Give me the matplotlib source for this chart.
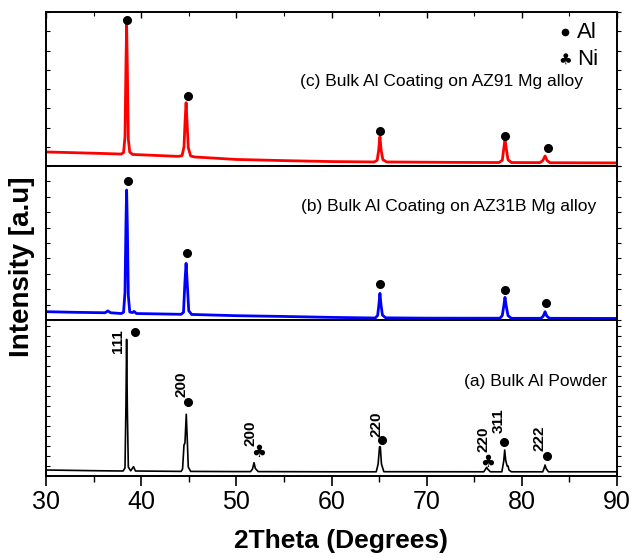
import matplotlib
matplotlib.use("Agg")
import matplotlib.pyplot as plt
from matplotlib.ticker import MultipleLocator, NullFormatter

plt.rcParams['font.family'] = ['Liberation Sans', 'DejaVu Sans']

# (c) AZ91 coating - red
tt_c = [30, 36, 37.9, 38.15, 38.3, 38.4, 38.47, 38.55, 38.65, 38.8, 39.1, 43.9, 44.3, 44.5,
        44.62, 44.72, 44.82, 44.95, 45.2, 45.6, 50, 55, 60, 64.5, 64.8, 64.95, 65.09, 65.22,
        65.4, 65.8, 72, 77.6, 77.95, 78.1, 78.23, 78.38, 78.55, 78.9, 81.9, 82.2, 82.44,
        82.65, 82.95, 90]
int_c = [730, 650, 620, 700, 1500, 5200, 7400, 5000, 1400, 720, 600, 500, 540, 1000,
         2400, 3290, 2300, 950, 520, 470, 340, 280, 230, 210, 300, 800, 1520, 800,
         330, 210, 190, 180, 300, 900, 1390, 850, 320, 180, 175, 280, 520,
         290, 170, 160]

# (b) AZ31B coating - blue
tt_b = [30, 33, 36.2, 36.5, 36.8, 37.9, 38.15, 38.3, 38.4, 38.47, 38.55, 38.65, 38.8, 39.1,
        39.25, 39.5, 44.2, 44.45, 44.6, 44.72, 44.84, 45.0, 45.3, 50, 55, 60, 64.6, 64.85,
        64.98, 65.09, 65.2, 65.35, 65.7, 70, 77.7, 77.95, 78.1, 78.23, 78.36, 78.55, 78.9,
        82.0, 82.25, 82.44, 82.62, 82.9, 90]
int_b = [540, 500, 470, 590, 470, 420, 500, 1800, 6200, 8440, 6000, 1600, 520, 480,
         560, 420, 370, 500, 2500, 3680, 2400, 600, 360, 280, 230, 170, 130, 300,
         1000, 1730, 1000, 320, 140, 120, 115, 300, 900, 1470, 900, 280, 110,
         110, 250, 540, 260, 110, 100]

# (a) Al powder - black
tt_a = [30, 35, 38.1, 38.3, 38.4, 38.47, 38.55, 38.65, 38.9, 39.2, 39.4, 44.2, 44.35, 44.5,
        44.6, 44.74, 44.85, 44.95, 45.2, 50, 51.5, 51.7, 51.86, 52.0, 52.3, 60, 64.7, 64.9,
        65.05, 65.13, 65.25, 65.5, 76.0, 76.2, 76.3, 76.45, 76.7, 77.9, 78.1, 78.2, 78.3,
        78.45, 78.55, 78.65, 78.9, 82.2, 82.35, 82.44, 82.55, 82.8, 90]
int_a = [600, 530, 500, 800, 7000, 13670, 6500, 900, 520, 930, 500, 460, 700, 3100,
         3300, 6170, 3500, 900, 460, 440, 440, 700, 1330, 750, 440, 420, 420, 1200,
         2930, 2900, 1200, 430, 420, 700, 870, 650, 420, 420, 1500, 2600, 1600,
         1000, 1000, 600, 420, 420, 800, 1100, 750, 420, 420]

# Al peak markers
al_c_x = [38.51, 44.92, 65.09, 78.23, 82.75]
al_c_y = [7600, 3640, 1800, 1560, 920]
al_b_x = [38.65, 44.82, 65.09, 78.2, 82.54]
al_b_y = [9040, 4330, 2340, 1930, 1080]
al_a_x = [39.38, 44.89, 65.27, 78.12, 82.61]
al_a_y = [14400, 7400, 3600, 3430, 2000]
ni_a_x = [52.31, 76.41]
ni_a_y = [2370, 1430]

# hkl labels for the powder pattern
hkl_text = ['111', '200', '200', '220', '220', '311', '222']
hkl_x = [37.57, 44.19, 51.44, 64.75, 76.0, 77.53, 81.9]
hkl_y = [13450, 9200, 4300, 5200, 3700, 5550, 3800]

W, H = 633, 558
fig = plt.figure(figsize=(W / 100, H / 100), dpi=100)
left = 46 / W
width = (617 - 46) / W


def panel(top_px, bot_px):
    return fig.add_axes([left, 1 - bot_px / H, width, (bot_px - top_px) / H])


ax_c = panel(12, 166)
ax_b = panel(166, 320)
ax_a = panel(320, 476)

ax_c.plot(tt_c, int_c, color='red', lw=2.0)
ax_b.plot(tt_b, int_b, color='blue', lw=2.0)
ax_a.plot(tt_a, int_a, color='black', lw=1.2)

ax_c.plot(al_c_x, al_c_y, 'o', color='black', ms=5.5)
ax_b.plot(al_b_x, al_b_y, 'o', color='black', ms=5.5)
ax_a.plot(al_a_x, al_a_y, 'o', color='black', ms=5.5)
for x, y in zip(ni_a_x, ni_a_y):
    ax_a.text(x, y, '\u2663', ha='center', va='center', fontsize=12,
              family=['DejaVu Sans'])

for t, x, y in zip(hkl_text, hkl_x, hkl_y):
    ax_a.text(x, y, t, rotation=90, ha='center', va='center', fontsize=11,
              fontweight='bold')

ax_c.set_ylim(0, 8000)
ax_b.set_ylim(0, 10000)
ax_a.set_ylim(0, 15600)

ax_c.text(0.692, 0.55, '(c) Bulk Al Coating on AZ91 Mg alloy', transform=ax_c.transAxes,
          ha='center', va='center', fontsize=12.5)
ax_b.text(0.705, 0.735, '(b) Bulk Al Coating on AZ31B Mg alloy', transform=ax_b.transAxes,
          ha='center', va='center', fontsize=12.5)
ax_a.text(0.858, 0.605, '(a) Bulk Al Powder', transform=ax_a.transAxes,
          ha='center', va='center', fontsize=12.5)

# legend in the top panel
ax_c.plot([0.909], [0.87], 'o', color='black', ms=4.5, transform=ax_c.transAxes)
ax_c.text(0.93, 0.87, 'Al', transform=ax_c.transAxes, ha='left', va='center', fontsize=16)
ax_c.text(0.909, 0.69, '\u2663', transform=ax_c.transAxes, ha='center', va='center',
          fontsize=11, family=['DejaVu Sans'])
ax_c.text(0.93, 0.69, 'Ni', transform=ax_c.transAxes, ha='left', va='center', fontsize=16)

for ax in (ax_c, ax_b, ax_a):
    ax.set_xlim(30, 90)
    ax.xaxis.set_major_locator(MultipleLocator(10))
    ax.xaxis.set_minor_locator(MultipleLocator(5))
    ax.yaxis.set_major_locator(MultipleLocator(1000))
    ax.yaxis.set_major_formatter(NullFormatter())
    ax.tick_params(axis='y', which='both', left=True, right=False, direction='in',
                   length=3, width=0.8)
    for s in ax.spines.values():
        s.set_linewidth(1.4)
    # outward ticks on the right side
    ry = ax.secondary_yaxis('right')
    ry.yaxis.set_major_locator(MultipleLocator(1000))
    ry.yaxis.set_major_formatter(NullFormatter())
    ry.tick_params(direction='out', length=3, width=0.8)
    ry.spines['right'].set_visible(False)

ax_c.tick_params(axis='x', which='both', top=True, bottom=False, labelbottom=False,
                 direction='in')
ax_c.tick_params(axis='x', which='major', length=4, width=1)
ax_c.tick_params(axis='x', which='minor', length=3, width=0.8)
ax_b.tick_params(axis='x', which='both', top=False, bottom=False, labelbottom=False)
ax_a.tick_params(axis='x', which='both', top=False, bottom=True, direction='out')
ax_a.tick_params(axis='x', which='major', length=7, width=1.2, labelsize=18, pad=3)
ax_a.tick_params(axis='x', which='minor', length=4, width=1)

fig.text(341 / W, 1 - 541 / H, '2Theta (Degrees)', ha='center', va='center',
         fontsize=19, fontweight='bold')
fig.text(22 / W, 1 - 267 / H, 'Intensity [a.u]', rotation=90, ha='center', va='center',
         fontsize=20, fontweight='bold')

fig.savefig('out.png', dpi=100)
